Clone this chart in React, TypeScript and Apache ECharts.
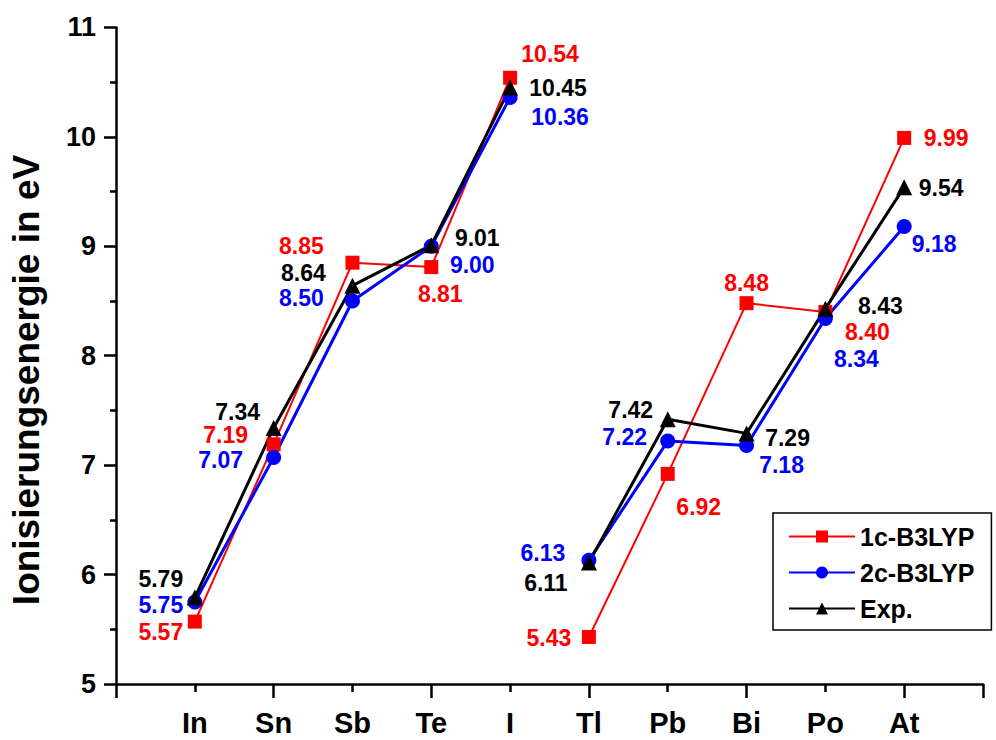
import React, { useEffect, useRef } from "react";
import * as echarts from "echarts";

const categories = ["In", "Sn", "Sb", "Te", "I", "Tl", "Pb", "Bi", "Po", "At"];
const oneC = [5.57, 7.19, 8.85, 8.81, 10.54, 5.43, 6.92, 8.48, 8.4, 9.99];
const twoC = [5.75, 7.07, 8.5, 9.0, 10.36, 6.13, 7.22, 7.18, 8.34, 9.18];
const expV = [5.79, 7.34, 8.64, 9.01, 10.45, 6.11, 7.42, 7.29, 8.43, 9.54];
const yTicks = [5, 6, 7, 8, 9, 10, 11];

// label offsets (styling only)
const offRed = [[-34, 10], [-48, -9], [-51, -17], [9, 27], [40, -24], [-40, 1], [31, 33], [0, -20], [42, 20], [42, 0]];
const offBlue = [[-34, 3], [-53, 3], [-51, -3], [41, 19], [50, 20], [-46, -7], [-43, -4], [35, 20], [31, 41], [30, 17]];
const offBlack = [[-34, -19], [-36, -16], [-49, -13], [46, -7], [48, 0], [-43, 20], [-37, -9], [41, 5], [55, -3], [37, 1]];

const FONT = '"Liberation Sans", Arial, sans-serif';

function buildData(vals: number[], offs: number[][]) {
  const out: any[] = [];
  vals.forEach((v, i) => {
    if (i === 5) out.push({ value: [5.5, "-"] });
    out.push({ value: [i + 1, v], label: { offset: offs[i] } });
  });
  return out;
}

function makeSeries(name: string, vals: number[], offs: number[][], color: string, symbol: string, size: number, lw: number) {
  return {
    name,
    type: "line",
    xAxisIndex: 0,
    yAxisIndex: 0,
    data: buildData(vals, offs),
    connectNulls: false,
    symbol,
    symbolSize: size,
    showAllSymbol: true,
    lineStyle: { color, width: lw },
    itemStyle: { color, borderWidth: 0 },
    label: {
      show: true,
      position: "inside",
      align: "center",
      verticalAlign: "middle",
      color,
      fontSize: 23,
      lineHeight: 19,
      fontWeight: "bold",
      fontFamily: FONT,
      textBorderWidth: 0,
      formatter: (p: any) => Number(p.value[1]).toFixed(2),
    },
    emphasis: { disabled: true },
  };
}

export default function App() {
  const ref = useRef<HTMLDivElement>(null);
  useEffect(() => {
    document.body.style.margin = "0";
    const chart = echarts.init(ref.current!, undefined, { renderer: "svg" });
    const axisColor = "#000";
    chart.setOption({
      animation: false,
      backgroundColor: "#fff",
      grid: { left: 116, right: 13, top: 27.4, bottom: 56, containLabel: false, outerBoundsMode: "none" },
      legend: {
        orient: "vertical",
        left: 773,
        top: 513,
        padding: [11, 17, 9, 15],
        itemWidth: 66,
        itemHeight: 15,
        itemGap: 11,
        borderColor: "#000",
        borderWidth: 1.5,
        textStyle: { fontSize: 25, fontWeight: "bold", fontFamily: FONT, color: "#000" },
        data: ["1c-B3LYP", "2c-B3LYP", "Exp."],
      },
      xAxis: [
        {
          type: "value",
          min: 0,
          max: 11,
          interval: 2,
          position: "bottom",
          axisLine: { show: true, onZero: false, lineStyle: { color: axisColor, width: 2.5 } },
          axisTick: { show: true, inside: false, length: 14, lineStyle: { color: axisColor, width: 2.5 } },
          minorTick: { show: true, splitNumber: 2, length: 8, lineStyle: { color: axisColor, width: 2.5 } },
          axisLabel: { show: false },
          splitLine: { show: false },
          minorSplitLine: { show: false },
        },
        {
          type: "value",
          min: 0,
          max: 11,
          interval: 1,
          position: "bottom",
          axisLine: { show: false },
          axisTick: { show: false },
          splitLine: { show: false },
          axisLabel: {
            show: true,
            margin: 26,
            fontSize: 29,
            lineHeight: 26,
            fontWeight: "bold",
            fontFamily: FONT,
            color: "#000",
            formatter: (v: number) => categories[v - 1] ?? "",
          },
        },
      ],
      yAxis: {
        type: "value",
        min: yTicks[0],
        max: yTicks[yTicks.length - 1],
        interval: 1,
        axisLine: { show: true, onZero: false, lineStyle: { color: axisColor, width: 2.5 } },
        axisTick: { show: true, inside: false, length: 12, lineStyle: { color: axisColor, width: 2.5 } },
        minorTick: { show: true, splitNumber: 2, length: 6, lineStyle: { color: axisColor, width: 2.5 } },
        splitLine: { show: false },
        minorSplitLine: { show: false },
        axisLabel: { margin: 20, fontSize: 27, fontWeight: "bold", fontFamily: FONT, color: "#000" },
      },
      graphic: [
        {
          type: "text",
          x: 26,
          y: 380,
          rotation: Math.PI / 2,
          style: {
            text: "Ionisierungsenergie in eV",
            fontSize: 37,
            fontWeight: "bold",
            fontFamily: FONT,
            fill: "#000",
            textAlign: "center",
            textVerticalAlign: "middle",
          },
        },
      ],
      series: [
        makeSeries("1c-B3LYP", oneC, offRed, "#ff0000", "rect", 14, 2),
        makeSeries("2c-B3LYP", twoC, offBlue, "#0000ff", "circle", 15, 3),
        makeSeries("Exp.", expV, offBlack, "#000000", "triangle", 16, 3),
      ],
    });
    return () => chart.dispose();
  }, []);
  return <div ref={ref} style={{ position: "absolute", left: 0, top: 0, width: 996, height: 740 }} />;
}
